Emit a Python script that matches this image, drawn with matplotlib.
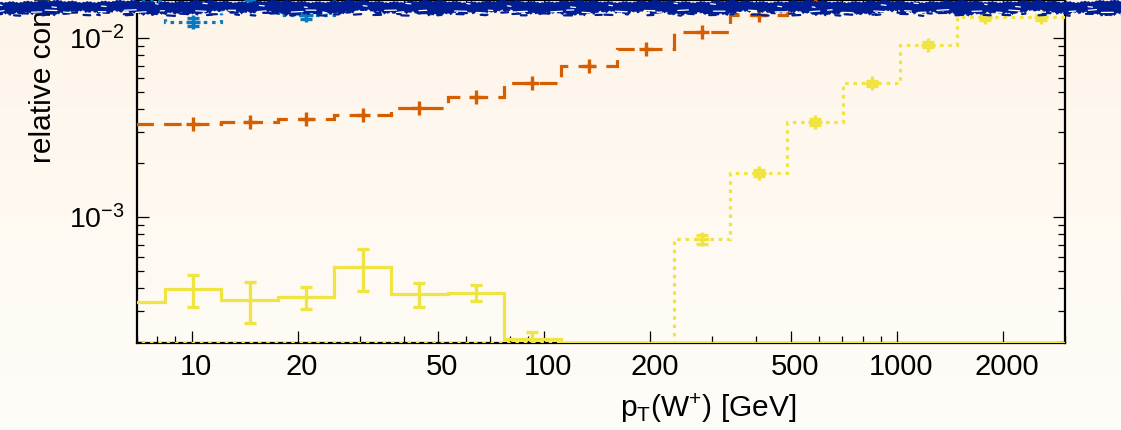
import numpy as np
import matplotlib
matplotlib.use("Agg")
import matplotlib.pyplot as plt
import matplotlib.transforms as mtransforms
from matplotlib.ticker import FixedLocator, NullFormatter

plt.rcParams['font.family'] = ['Liberation Sans', 'DejaVu Sans']
plt.rcParams['mathtext.fontset'] = 'custom'
plt.rcParams['mathtext.rm'] = 'Liberation Sans'
plt.rcParams['mathtext.it'] = 'Liberation Sans:italic'

# bin edges in pT [GeV], log-spaced
edges = [5.80, 8.39, 12.15, 17.57, 25.42, 36.78, 53.2, 77.0, 111.4, 161.2,
         233.2, 337.3, 488.0, 706.0, 1021.0, 1478.0, 2138.0, 3093.0]

# orange dashed: top bins are hidden under the torn edge
orange_vals = [3.31e-3, 3.31e-3, 3.41e-3, 3.51e-3, 3.73e-3, 4.08e-3, 4.69e-3, 5.64e-3,
               7.00e-3, 8.71e-3, 1.084e-2, 1.35e-2, 1.70e-2, 2.10e-2, 2.60e-2, 3.20e-2, 4.0e-2]
orange_err = [1.0e-4, 1.0e-4, 1.0e-4, 1.0e-4, 1.1e-4, 1.2e-4, 1.4e-4, 1.7e-4,
              2.1e-4, 2.6e-4, 3.2e-4, 4.0e-4, 5.0e-4, 6.0e-4, 8.0e-4, 1.0e-3, 1.2e-3]

# blue dotted: mostly above the visible range
blue_vals = [1.60e-2, 1.233e-2, 1.55e-2, 1.34e-2, 1.8e-2, 1.9e-2, 2.0e-2, 2.1e-2,
             2.2e-2, 2.3e-2, 2.4e-2, 2.5e-2, 2.6e-2, 2.7e-2, 2.8e-2, 2.9e-2, 3.0e-2]
blue_err = [8e-4, 6e-4, 8e-4, 7e-4, 9e-4, 9e-4, 1e-3, 1e-3,
            1e-3, 1e-3, 1e-3, 1e-3, 1e-3, 1e-3, 1e-3, 1e-3, 1e-3]

# yellow solid (low pT contribution)
ysolid_vals = [3.34e-4, 3.94e-4, 3.43e-4, 3.57e-4, 5.24e-4, 3.72e-4, 3.78e-4, 2.08e-4,
               0, 0, 0, 0, 0, 0, 0, 0, 0]
ysolid_err = [0.7e-4, 0.78e-4, 0.88e-4, 0.5e-4, 1.4e-4, 0.58e-4, 0.4e-4, 0.21e-4,
              0, 0, 0, 0, 0, 0, 0, 0, 0]

# yellow dotted (high pT contribution)
ydot_vals = [0, 0, 0, 0, 0, 0, 0, 0, 0, 0, 7.53e-4, 1.77e-3, 3.40e-3,
             5.58e-3, 9.18e-3, 1.306e-2, 1.306e-2]
ydot_err = [0, 0, 0, 0, 0, 0, 0, 0, 0, 0, 4.4e-5, 7e-5, 1.2e-4,
            1.8e-4, 2.8e-4, 4e-4, 4e-4]

xticks_major = [10, 20, 50, 100, 200, 500, 1000, 2000]
xtick_labels = ['10', '20', '50', '100', '200', '500', '1000', '2000']

BLUE = '#0a78bd'
ORANGE = '#d55e00'
YELLOW = '#f0e442'
EDGE = '#001e91'

xmin, xmax = 7.0, 3000.0
ymin, ymax = 1.977e-4, 1.631e-2

W, H = 1121, 430
fig = plt.figure(figsize=(W / 100, H / 100), dpi=100)

# background gradient
bg = fig.add_axes([0, 0, 1, 1], zorder=-10)
top_c = np.array([255, 245, 233]) / 255
bot_c = np.array([254, 253, 249]) / 255
t = np.linspace(0, 1, 200)[:, None, None]
grad = top_c * (1 - t) + bot_c * t
bg.imshow(np.repeat(grad, 2, axis=1), aspect='auto', extent=[0, 1, 0, 1])
bg.axis('off')

ax = fig.add_axes([137 / W, (H - 343) / H, (1065 - 137) / W, 343 / H])
ax.set_facecolor('none')
ax.set_xscale('log')
ax.set_yscale('log')
ax.set_xlim(xmin, xmax)
ax.set_ylim(ymin, ymax)

edges_a = np.array(edges)
centers = np.sqrt(edges_a[:-1] * edges_a[1:])
lw = 2.3


def draw(vals, errs, color, ls, marker, capsize):
    v = np.array(vals, dtype=float)
    e = np.array(errs, dtype=float)
    ax.stairs(np.maximum(v, ymin * 1.002), edges_a, baseline=None,
              color=color, lw=lw, linestyle=ls, zorder=3)
    m = (v > 0) & (centers > xmin)
    ax.errorbar(centers[m], v[m], yerr=e[m], fmt=marker, color=color,
                ms=10, mew=2.4, elinewidth=2.4, capsize=capsize, capthick=2.4,
                zorder=4)


draw(ysolid_vals, ysolid_err, YELLOW, '-', 'none', 4)
draw(ydot_vals, ydot_err, YELLOW, (0, (1.1, 1.5)), '+', 4)
draw(orange_vals, orange_err, ORANGE, (0, (5.5, 3.2)), '+', 0)
draw(blue_vals, blue_err, BLUE, (0, (1.1, 1.5)), '+', 4)

ax.xaxis.set_major_locator(FixedLocator(xticks_major))
ax.set_xticklabels(xtick_labels)
minor_x = [m * d for d in (1, 10, 100, 1000) for m in range(1, 10)
           if m * d not in xticks_major]
ax.xaxis.set_minor_locator(FixedLocator(minor_x))
ax.xaxis.set_minor_formatter(NullFormatter())

ax.yaxis.set_major_locator(FixedLocator([1e-3, 1e-2]))
ax.set_yticklabels([r'$10^{-3}$', r'$10^{-2}$'])
minor_y = [m * d for d in (1e-4, 1e-3, 1e-2) for m in range(2, 10)]
ax.yaxis.set_minor_locator(FixedLocator(minor_y))
ax.yaxis.set_minor_formatter(NullFormatter())

ax.tick_params(which='both', direction='in', top=True, right=True,
               width=0.9, colors='black')
ax.tick_params(axis='x', labelsize=21)
ax.tick_params(axis='y', labelsize=20.5)
ax.tick_params(which='major', length=8.8)
ax.tick_params(which='minor', length=4.8)
ax.tick_params(axis='x', which='major', pad=7)
ax.tick_params(axis='y', which='major', pad=9)
for s in ax.spines.values():
    s.set_linewidth(1.6)

shift = mtransforms.ScaledTranslation(4 / 100, 0, fig.dpi_scale_trans)
for lab in ax.get_xticklabels():
    lab.set_transform(lab.get_transform() + shift)

fig.text(708 / W, (H - 408) / H, r'p$_{\mathrm{T}}$(W$^{+}$) [GeV]',
         ha='center', va='center', fontsize=21.5)
fig.text(43 / W, (H - 163) / H, 'relative contribution', rotation=90,
         ha='center', va='bottom', fontsize=21.5)

# torn top edge
ov = fig.add_axes([0, 0, 1, 1], zorder=20)
ov.set_xlim(0, W)
ov.set_ylim(H, 0)
ov.axis('off')
xs = np.linspace(0, W, 2500)
top_edge = (1.3 + 0.8 * np.sin(xs * 0.083 + 0.5) + 0.6 * np.sin(xs * 0.41)
            + 0.4 * np.sin(xs * 1.7 + 1.2))
bottom = (13 + 1.3 * np.sin(xs * 0.047) + 1.0 * np.sin(xs * 0.131 + 1.0)
          + 0.8 * np.sin(xs * 0.57 + 2.0) + 0.6 * np.sin(xs * 1.41 + 0.4)
          + 0.4 * np.sin(xs * 3.7))
ov.fill_between(xs, top_edge, bottom, color=EDGE, lw=0)
# fuzzy navy fragments below the edge
for k in range(95):
    x0 = k * 11.9 + 5 * np.sin(k * 2.7)
    yy = 14 + 1.4 * np.sin(k * 1.9)
    ln = 2 + 6 * abs(np.sin(k * 0.77))
    ov.plot([x0, x0 + ln], [yy, yy + 0.5 * np.sin(k)], color=EDGE, lw=1.6,
            solid_capstyle='round')
# sparse white wisps near the lower edge of the band
for k in range(48):
    x0 = k * 23.6 + 8 * np.sin(k * 1.7)
    yy = 11.3 + 1.2 * np.sin(k * 2.3)
    ln = 4 + 8 * abs(np.sin(k * 0.9))
    ov.plot([x0, x0 + ln], [yy, yy - 0.7 * np.cos(k * 1.1)], color='white',
            lw=0.9, solid_capstyle='round')
# a few specks inside
for k in range(22):
    x0 = k * 51.3 + 14 * np.sin(k * 3.1)
    yy = 5 + 2 * np.sin(k * 1.3)
    ov.plot([x0, x0 + 2 + 3 * abs(np.sin(k))], [yy, yy + 0.5], color='white',
            lw=0.9, solid_capstyle='round')

fig.savefig('out.png', dpi=100)
